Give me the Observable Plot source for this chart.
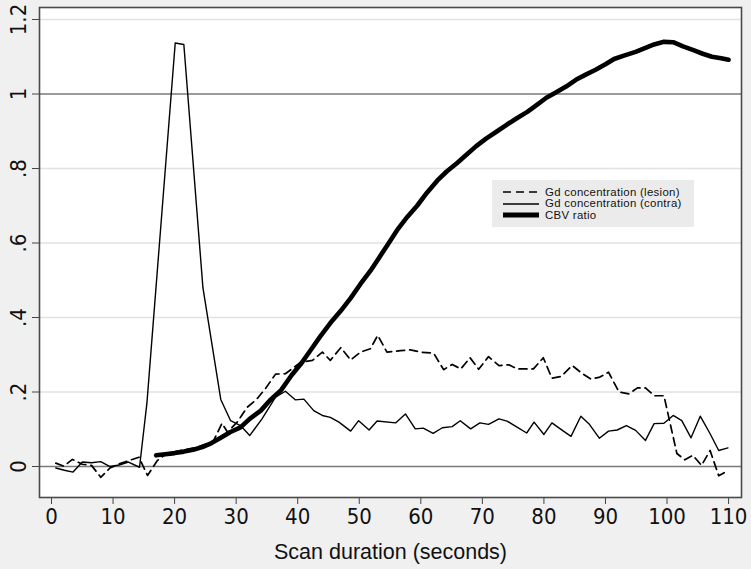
<!DOCTYPE html>
<html><head><meta charset="utf-8">
<script src="https://cdn.jsdelivr.net/npm/d3@7"></script>
<script src="https://cdn.jsdelivr.net/npm/@observablehq/plot@0.6"></script>
<style>
html,body{margin:0;padding:0;background:#f0f0f0;}
#wrap{position:relative;width:751px;height:569px;overflow:hidden;}
#legend{position:absolute;left:492px;top:180px;width:202px;height:47px;background:#ebebeb;
  font-family:"Liberation Sans",Arial,sans-serif;font-size:11.4px;color:#111;letter-spacing:0.3px;}
#legend .row{position:absolute;left:0;height:11px;line-height:11px;white-space:nowrap;}
#legend svg{position:absolute;left:10px;top:-0.5px;}
#legend span{position:absolute;left:53px;top:0;}
</style></head><body><div id="wrap"></div>
<script>
const xTicks = [0, 10, 20, 30, 40, 50, 60, 70, 80, 90, 100, 110];
const yTicks = [0, 0.2, 0.4, 0.6, 0.8, 1, 1.2];
const yTickLabels = ["0", ".2", ".4", ".6", ".8", "1", "1.2"];
const xTitle = "Scan duration (seconds)";
const seriesNames = ["Gd concentration (lesion)", "Gd concentration (contra)", "CBV ratio"];

// Gd concentration (lesion) — dashed
const lesionT = [0.7, 2.0, 3.4, 5.0, 6.5, 8.0, 9.5, 11.0, 12.6, 14.2, 15.6, 17.2, 18.7, 20.2, 21.7, 23.2, 24.7, 26.2, 27.7, 28.6,
  30.2, 31.8, 33.3, 34.8, 36.4, 38.0, 40.5, 42.4, 44.0, 45.3, 47.0, 48.6, 50.2, 51.8, 53.0, 54.5, 56.7, 58.3, 60.0, 62.1,
  63.7, 65.1, 66.5, 68.0, 69.4, 71.0, 72.7, 74.3, 75.7, 78.3, 79.9, 81.3, 82.8, 84.6, 86.2, 87.6, 89.1, 90.5, 92.2, 93.8,
  95.2, 96.5, 97.9, 99.5, 101.6, 102.9, 104.2, 105.6, 107.0, 108.4, 109.8];
const lesionV = [0.009, 0.001, 0.019, 0.006, 0.003, -0.029, -0.004, 0.007, 0.016, 0.025, -0.024, 0.016, 0.035, 0.040, 0.045, 0.050, 0.058, 0.065, 0.116, 0.092,
  0.120, 0.159, 0.180, 0.210, 0.248, 0.249, 0.280, 0.285, 0.307, 0.285, 0.319, 0.286, 0.307, 0.316, 0.352, 0.307, 0.311, 0.313, 0.307, 0.304,
  0.260, 0.274, 0.262, 0.292, 0.261, 0.295, 0.271, 0.273, 0.262, 0.262, 0.292, 0.237, 0.242, 0.271, 0.250, 0.235, 0.240, 0.253, 0.200, 0.195,
  0.211, 0.211, 0.190, 0.190, 0.035, 0.018, 0.030, 0.003, 0.043, -0.025, -0.012];

// Gd concentration (contra) — thin solid
const contraT = [0.7, 2.1, 3.5, 5.0, 6.5, 8.0, 9.5, 11.0, 12.5, 14.3, 15.5, 20.1, 21.5, 24.6, 27.5, 29.1, 30.7, 32.2, 34.2, 36.4,
  38.0, 39.6, 41.0, 42.6, 44.0, 45.3, 46.7, 48.6, 49.9, 51.6, 52.9, 55.9, 57.5, 59.1, 60.4, 62.0, 63.5, 65.1, 66.4, 68.1,
  69.6, 71.0, 72.7, 74.0, 75.7, 77.2, 78.4, 80.0, 81.3, 83.0, 84.4, 86.0, 87.3, 89.0, 90.5, 91.9, 93.4, 94.9, 96.5, 97.9,
  99.5, 101.0, 102.4, 103.9, 105.4, 107.0, 108.4, 109.9];
const contraV = [-0.004, -0.010, -0.015, 0.012, 0.010, 0.013, 0.000, 0.004, 0.012, -0.002, 0.170, 1.137, 1.133, 0.480, 0.180, 0.123, 0.110, 0.083, 0.128, 0.186,
  0.202, 0.179, 0.181, 0.150, 0.137, 0.132, 0.119, 0.095, 0.123, 0.098, 0.122, 0.117, 0.141, 0.101, 0.103, 0.089, 0.104, 0.107, 0.123, 0.101,
  0.117, 0.113, 0.128, 0.122, 0.105, 0.090, 0.119, 0.086, 0.117, 0.097, 0.081, 0.135, 0.115, 0.076, 0.095, 0.098, 0.110, 0.097, 0.070, 0.115,
  0.116, 0.137, 0.123, 0.077, 0.135, 0.088, 0.043, 0.050];

// CBV ratio — thick solid
const cbvT = [17.0, 18.5, 20.0, 21.5, 23.0, 24.5, 26.0, 27.5, 29.0, 30.7, 32.2, 34.0, 35.5, 37.3, 39.0, 40.5, 42.0, 43.7, 45.3, 47.0,
  48.6, 50.2, 51.8, 53.2, 54.8, 56.3, 57.8, 59.4, 61.0, 62.7, 64.2, 65.9, 67.5, 69.0, 70.6, 72.4, 74.0, 75.6, 77.3, 78.8,
  80.4, 82.0, 83.6, 85.2, 86.8, 88.4, 90.0, 91.4, 93.0, 94.9, 96.4, 97.9, 99.5, 101.0, 102.6, 104.4, 105.8, 107.3, 108.8, 110.0];
const cbvV = [0.030, 0.033, 0.036, 0.040, 0.045, 0.052, 0.063, 0.077, 0.092, 0.105, 0.128, 0.150, 0.178, 0.205, 0.245, 0.275, 0.310, 0.350, 0.385, 0.418,
  0.452, 0.490, 0.525, 0.560, 0.600, 0.638, 0.670, 0.700, 0.735, 0.768, 0.792, 0.815, 0.838, 0.860, 0.880, 0.900, 0.918, 0.935, 0.952, 0.970,
  0.990, 1.005, 1.020, 1.038, 1.052, 1.065, 1.080, 1.094, 1.103, 1.113, 1.123, 1.133, 1.140, 1.139, 1.128, 1.117, 1.108, 1.100, 1.096, 1.092];

const zip = (T, V) => T.map((t, i) => ({t, v: V[i]}));
const lesion = zip(lesionT, lesionV);
const contra = zip(contraT, contraV);
const cbv = zip(cbvT, cbvV);

const narrow = '"Liberation Sans Narrow","DejaVu Sans Condensed","Arial Narrow",sans-serif';

const chart = Plot.plot({
  width: 751,
  height: 569,
  marginLeft: 39,
  marginRight: 10,
  marginTop: 7,
  marginBottom: 72,
  style: {background: "#f0f0f0", fontFamily: narrow, color: "#111", overflow: "visible"},
  x: {domain: [-1.95, 112.1]},
  y: {domain: [-0.0832, 1.2322]},
  marks: [
    Plot.frame({fill: "white", stroke: null}),
    Plot.ruleY(yTicks.filter(d => d !== 0 && d !== 1), {stroke: "#e2e2e2", strokeWidth: 1.5}),
    Plot.ruleY([0, 1], {stroke: "#7a7a7a", strokeWidth: 1.6}),
    Plot.line(lesion, {x: "t", y: "v", stroke: "#000", strokeWidth: 1.7, strokeDasharray: "8,5"}),
    Plot.line(contra, {x: "t", y: "v", stroke: "#000", strokeWidth: 1.4}),
    Plot.line(cbv, {x: "t", y: "v", stroke: "#000", strokeWidth: 4.6, strokeLinejoin: "round", strokeLinecap: "round"}),
    Plot.axisX({ticks: xTicks, tickSize: 7, tickPadding: 4, fontSize: 22, fontFamily: narrow, label: null, stroke: "#444"}),
    Plot.axisY({ticks: yTicks, tickSize: 7, tickFormat: () => "", label: null, stroke: "#444"}),
    Plot.text(yTicks, {y: d => d, text: (d, i) => yTickLabels[i], frameAnchor: "left", textAnchor: "middle", lineAnchor: "middle",
      dx: -21, rotate: -90, fontSize: 22, fontFamily: narrow, fill: "#111"}),
    Plot.text([xTitle], {frameAnchor: "bottom", lineAnchor: "middle", textAnchor: "middle", dy: 55, fontSize: 21.5,
      fontFamily: '"Liberation Sans",Arial,sans-serif', fill: "#111"}),
    Plot.frame({stroke: "#4a4a4a", strokeWidth: 1.6})
  ]
});

const wrap = document.getElementById("wrap");
wrap.appendChild(chart);

// legend
const legend = document.createElement("div");
legend.id = "legend";
const styles = [
  {dash: "8,5", w: 1.7},
  {dash: null, w: 1.5},
  {dash: null, w: 5}
];
seriesNames.forEach((name, i) => {
  const row = document.createElement("div");
  row.className = "row";
  row.style.top = (6.5 + i * 11.7) + "px";
  row.style.width = "200px";
  const s = styles[i];
  row.innerHTML = `<svg width="38" height="12"><line x1="1" x2="37" y1="6" y2="6" stroke="#000" stroke-width="${s.w}" ${s.dash ? `stroke-dasharray="${s.dash}"` : ""}/></svg><span>${name}</span>`;
  legend.appendChild(row);
});
wrap.appendChild(legend);
</script>
</body></html>
